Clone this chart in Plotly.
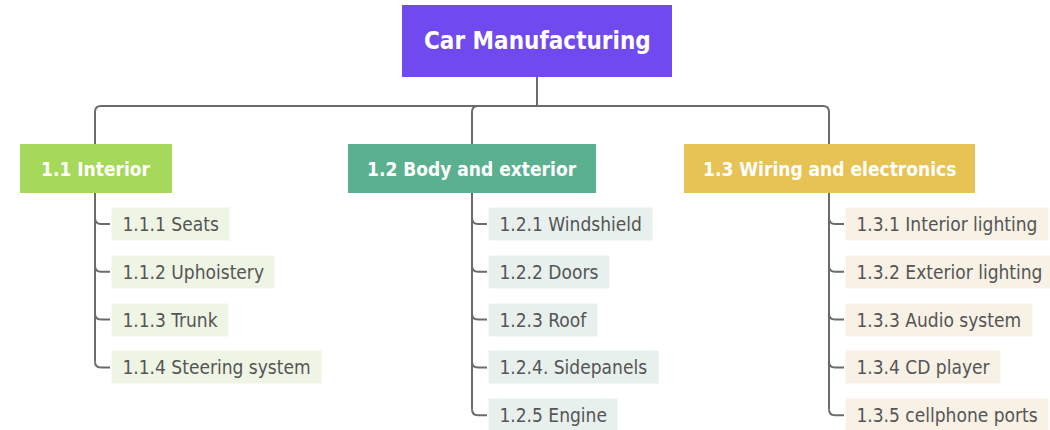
import plotly.graph_objects as go

# ---- data ----
root_label = "Car Manufacturing"
group_labels = ["1.1 Interior", "1.2 Body and exterior", "1.3 Wiring and electronics"]
interior_items = ["1.1.1 Seats", "1.1.2 Uphoistery", "1.1.3 Trunk", "1.1.4 Steering system"]
body_items = ["1.2.1 Windshield", "1.2.2 Doors", "1.2.3 Roof", "1.2.4. Sidepanels", "1.2.5 Engine"]
wiring_items = ["1.3.1 Interior lighting", "1.3.2 Exterior lighting", "1.3.3 Audio system",
                "1.3.4 CD player", "1.3.5 cellphone ports"]
children = [interior_items, body_items, wiring_items]

# ---- styles / layout ----
FONT = "DejaVu Sans Condensed, Liberation Sans Narrow, DejaVu Sans, sans-serif"
root_color = "#7049EF"
group_colors = ["#A6D95B", "#5BB18F", "#E6C354"]
leaf_bg = ["#EEF5E4", "#E7F0EC", "#F8F1E5"]
line_color = "#6b6b6b"
group_box = [(20, 172), (348, 596), (684, 975)]
group_cx = [95, 472, 829]
root_box = (402, 672, 5, 77)
bus_y = 106
gy0, gy1 = 144, 193
leaf_y0, leaf_step = 224, 47.8

fig = go.Figure()
shapes = []
annotations = []

# root
shapes.append(dict(type="rect", x0=root_box[0], x1=root_box[1], y0=root_box[2], y1=root_box[3],
                   fillcolor=root_color, line=dict(width=0), layer="below"))
annotations.append(dict(x=(root_box[0] + root_box[1]) / 2, y=(root_box[2] + root_box[3]) / 2,
                        text="<b>%s</b>" % root_label, showarrow=False,
                        font=dict(family=FONT, size=24, color="white")))

lw = dict(color=line_color, width=2)
r = 6
# connectors root -> bus
shapes.append(dict(type="line", x0=537, x1=537, y0=root_box[3], y1=bus_y, line=lw))
xl, xr = group_cx[0], group_cx[2]
shapes.append(dict(type="path",
                   path=f"M {xl} {gy0} L {xl} {bus_y + r} Q {xl} {bus_y} {xl + r} {bus_y} "
                        f"L {xr - r} {bus_y} Q {xr} {bus_y} {xr} {bus_y + r} L {xr} {gy0}",
                   line=lw))
xm = group_cx[1]
shapes.append(dict(type="path", path=f"M {xm} {gy0} L {xm} {bus_y + r} Q {xm} {bus_y} {xm + r} {bus_y}",
                   line=lw))

for gi, label in enumerate(group_labels):
    x0, x1 = group_box[gi]
    shapes.append(dict(type="rect", x0=x0, x1=x1, y0=gy0, y1=gy1,
                       fillcolor=group_colors[gi], line=dict(width=0)))
    annotations.append(dict(x=(x0 + x1) / 2, y=(gy0 + gy1) / 2, text="<b>%s</b>" % label,
                            showarrow=False, font=dict(family=FONT, size=19, color="white")))
    cx = group_cx[gi]
    items = children[gi]
    ys = [leaf_y0 + leaf_step * k for k in range(len(items))]
    # trunk line
    shapes.append(dict(type="line", x0=cx, x1=cx, y0=gy1, y1=ys[-1] - r, line=lw))
    for k, (item, y) in enumerate(zip(items, ys)):
        shapes.append(dict(type="path",
                           path=f"M {cx} {y - r} Q {cx} {y} {cx + r} {y} L {cx + 15} {y}",
                           line=lw))
        annotations.append(dict(x=cx + 16, y=y, xanchor="left", yanchor="middle",
                                text="\u00a0" + item + "\u00a0", showarrow=False,
                                bgcolor=leaf_bg[gi], borderpad=5,
                                font=dict(family=FONT, size=19, color="#555555")))

fig.update_layout(
    width=1050, height=430,
    margin=dict(l=0, r=0, t=0, b=0),
    paper_bgcolor="white", plot_bgcolor="white",
    xaxis=dict(range=[0, 1050], visible=False, fixedrange=True),
    yaxis=dict(range=[430, 0], visible=False, fixedrange=True),
    shapes=shapes, annotations=annotations, showlegend=False,
)
fig.write_html("out.html", config={"displayModeBar": False},
               post_script="document.body.style.margin='0';document.body.style.overflow='hidden';")
